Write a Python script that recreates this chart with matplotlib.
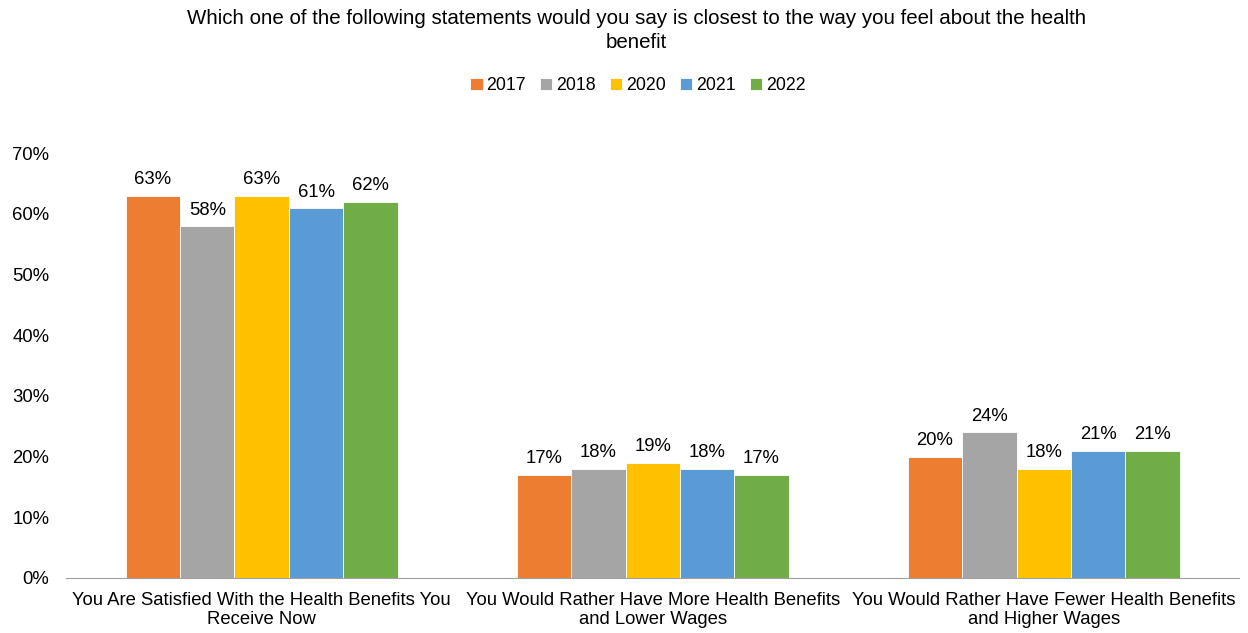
import numpy as np
import matplotlib.pyplot as plt

plt.rcParams['font.family'] = ['Liberation Sans', 'DejaVu Sans']

categories = ["You Are Satisfied With the Health Benefits You\nReceive Now",
              "You Would Rather Have More Health Benefits\nand Lower Wages",
              "You Would Rather Have Fewer Health Benefits\nand Higher Wages"]
years = ["2017", "2018", "2020", "2021", "2022"]
values = {
    "2017": [63, 17, 20],
    "2018": [58, 18, 24],
    "2020": [63, 19, 18],
    "2021": [61, 18, 21],
    "2022": [62, 17, 21],
}
colors = ["#ED7D31", "#A5A5A5", "#FFC000", "#5B9BD5", "#70AD47"]

fig = plt.figure(figsize=(12.48, 6.33), dpi=100)
ax = fig.add_axes([0.053, 0.087, 0.94, 0.671])

x = np.arange(len(categories))
w = 0.139
for i, yr in enumerate(years):
    pos = x + (i - 2) * w
    vals = np.array(values[yr]) / 100
    ax.bar(pos, vals, w, color=colors[i], label=yr, edgecolor="white", linewidth=0.6)
    for p, v in zip(pos, values[yr]):
        ax.text(p, v / 100 + 0.012, f"{v}%", ha="center", va="bottom", fontsize=13.3)

ax.set_xlim(-0.5, 2.5)
ax.set_ylim(0, 0.7)
ax.set_yticks(np.arange(0, 0.71, 0.1))
ax.set_yticklabels([f"{int(t*100)}%" for t in np.arange(0, 0.71, 0.1).round(2)], fontsize=13.3)
ax.set_xticks(x)
ax.set_xticklabels(categories, fontsize=13.3)
ax.tick_params(axis="y", length=0, pad=12)
ax.tick_params(axis="x", length=0, pad=10)
for s in ["top", "right", "left"]:
    ax.spines[s].set_visible(False)
ax.spines["bottom"].set_color("#A0A0A0")

fig.text(0.51, 0.985, "Which one of the following statements would you say is closest to the way you feel about the health\nbenefit",
         ha="center", va="top", fontsize=14.8, linespacing=1.3)
fig.legend(loc="center", bbox_to_anchor=(0.511, 0.865), ncol=5, frameon=False, fontsize=12.8,
           handlelength=0.7, handleheight=0.7, handletextpad=0.2, columnspacing=0.8)

fig.savefig("out.png", dpi=100)
